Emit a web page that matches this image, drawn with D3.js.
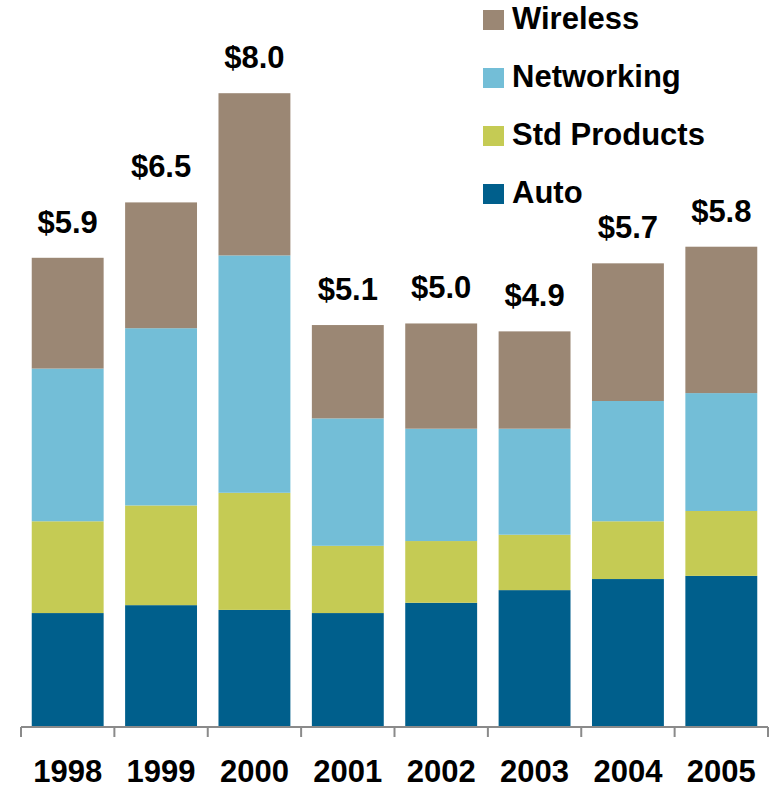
<!DOCTYPE html>
<html>
<head>
<meta charset="utf-8">
<script src="https://cdn.jsdelivr.net/npm/d3@7"></script>
<style>
  body { margin: 0; background: #fff; }
  text { font-family: Arial, "Liberation Sans", sans-serif; font-weight: bold; }
</style>
</head>
<body>
<script>
let width = 772;
let height = 789;

// data ($ billions)
let years = ["1998", "1999", "2000", "2001", "2002", "2003", "2004", "2005"];
let auto = [1.44, 1.54, 1.48, 1.44, 1.57, 1.73, 1.87, 1.91];
let stdProducts = [1.16, 1.26, 1.48, 0.85, 0.78, 0.70, 0.73, 0.82];
let networking = [1.93, 2.24, 3.00, 1.61, 1.42, 1.34, 1.52, 1.49];
let wireless = [1.40, 1.59, 2.05, 1.18, 1.33, 1.23, 1.74, 1.85];
let totalLabels = ["$5.9", "$6.5", "$8.0", "$5.1", "$5.0", "$4.9", "$5.7", "$5.8"];

let seriesNames = ["Auto", "Std Products", "Networking", "Wireless"];
let colors = ["#005f8c", "#c5cb54", "#73bed7", "#9b8774"];

let rows = years.map(function(y, i) {
    return { year: y, "Auto": auto[i], "Std Products": stdProducts[i],
             "Networking": networking[i], "Wireless": wireless[i] };
});

let stack = d3.stack().keys(seriesNames)(rows);

//scales

let baseY = 727;

let xScale = d3.scaleBand()
    .domain(years)
    .range([21, 768])
    .paddingInner(0.23)
    .paddingOuter(0.115);

let yScale = d3.scaleLinear()
    .domain([0, 8.0])
    .range([baseY, 94]);

let color = d3.scaleOrdinal().domain(seriesNames).range(colors);

let svg = d3.select("body")
    .append("svg")
    .attr("width", width)
    .attr("height", height);

//bars

svg.selectAll("g.series")
    .data(stack)
    .enter()
    .append("g")
    .attr("class", "series")
    .attr("fill", function(d) { return color(d.key); })
    .selectAll("rect")
    .data(function(d) { return d; })
    .enter()
    .append("rect")
    .attr("x", function(d) { return xScale(d.data.year); })
    .attr("y", function(d) { return yScale(d[1]); })
    .attr("width", xScale.bandwidth())
    .attr("height", function(d) { return yScale(d[0]) - yScale(d[1]); });

//total labels

let topLayer = stack[stack.length - 1];

svg.selectAll("text.total")
    .data(topLayer)
    .enter()
    .append("text")
    .attr("class", "total")
    .text(function(d, i) { return totalLabels[i]; })
    .attr("x", function(d) { return xScale(d.data.year) + xScale.bandwidth() / 2; })
    .attr("y", function(d) { return yScale(d[1]) - 25; })
    .attr("text-anchor", "middle")
    .attr("font-size", "31px")
    .attr("fill", "#000");

//axis

let step = xScale.step();
let tickX = years.map(function(y) { return xScale(y) - step * xScale.paddingInner() / 2; });
tickX.push(xScale.range()[1]);

svg.append("line")
    .attr("x1", xScale.range()[0])
    .attr("x2", xScale.range()[1])
    .attr("y1", baseY)
    .attr("y2", baseY)
    .attr("stroke", "#8a8a8a")
    .attr("stroke-width", 2);

svg.selectAll("line.tick")
    .data(tickX)
    .enter()
    .append("line")
    .attr("class", "tick")
    .attr("x1", function(d) { return d; })
    .attr("x2", function(d) { return d; })
    .attr("y1", baseY)
    .attr("y2", baseY + 10)
    .attr("stroke", "#8a8a8a")
    .attr("stroke-width", 2);

let xAxis = svg.append("g")
    .attr("transform", "translate(0," + baseY + ")")
    .call(d3.axisBottom(xScale).tickSize(0).tickPadding(0));

xAxis.select(".domain").remove();
xAxis.selectAll("text")
    .attr("dy", null)
    .attr("y", 55)
    .attr("font-size", "31px")
    .attr("font-family", "Arial, 'Liberation Sans', sans-serif")
    .attr("font-weight", "bold")
    .attr("fill", "#000");

//legend

let legendNames = seriesNames.slice().reverse();

let legend = svg.selectAll("g.legend")
    .data(legendNames)
    .enter()
    .append("g")
    .attr("class", "legend")
    .attr("transform", function(d, i) { return "translate(483," + (10 + i * 58) + ")"; });

legend.append("rect")
    .attr("width", 21)
    .attr("height", 20)
    .attr("fill", function(d) { return color(d); });

legend.append("text")
    .text(function(d) { return d; })
    .attr("x", 29)
    .attr("y", 19)
    .attr("font-size", "31px")
    .attr("fill", "#000");
</script>
</body>
</html>
